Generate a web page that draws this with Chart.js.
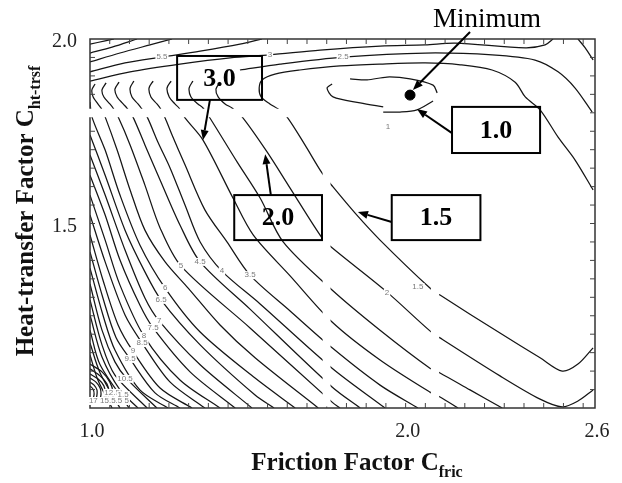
<!DOCTYPE html>
<html><head><meta charset="utf-8">
<script src="https://cdn.jsdelivr.net/npm/chart.js@4"></script>
<style>html,body{margin:0;padding:0;background:#fff}#wrap{width:622px;height:483px;position:relative}</style>
</head><body>
<div id="wrap"><canvas id="c"></canvas></div>
<script>
// ---- axis ticks ----
const xTickValues = [1.0, 2.0, 2.6];
const yTickValues = [1.5, 2.0];
const xMinorTicks = [1.0625,1.125,1.1875,1.25,1.3125,1.375,1.4375,1.5,1.5625,1.625,1.6875,1.75,1.8125,1.875,1.9375,2.0,2.0625,2.125,2.1875,2.25,2.3125,2.375,2.4375,2.5,2.5625];
const yMinorTicks = [1.05,1.1,1.15,1.2,1.25,1.3,1.35,1.4,1.45,1.5,1.55,1.6,1.65,1.7,1.75,1.8,1.85,1.9,1.95];

// ---- contour lines (Cfric, Cht-trsf) ----
const c15 = [[2.594,1.591],[2.537,1.672],[2.483,1.734],[2.426,1.808],[2.379,1.843],[2.347,1.883],[2.274,1.916],[2.173,1.930],[2.062,1.935],[1.919,1.932],[1.792,1.927],[1.665,1.916],[1.586,1.905],[1.545,1.889],[1.536,1.867],[1.542,1.843],[1.570,1.824],[1.596,1.810],[1.624,1.789],[1.681,1.713],[1.735,1.637],[1.770,1.599],[1.840,1.528],[1.919,1.455],[2.077,1.325],[2.109,1.306],[2.299,1.203],[2.426,1.136],[2.496,1.100],[2.546,1.119],[2.594,1.163]];
const c20 = [[1.412,1.883],[1.399,1.864],[1.406,1.843],[1.428,1.824],[1.450,1.813],[1.482,1.789],[1.561,1.694],[1.634,1.596],[1.735,1.461],[1.767,1.434],[1.941,1.314],[2.077,1.209],[2.109,1.190],[2.299,1.087],[2.426,1.024],[2.496,1.003],[2.546,1.019],[2.594,1.049]];
const c25 = [[1.326,1.886],[1.314,1.867],[1.320,1.843],[1.342,1.824],[1.358,1.813],[1.380,1.786],[1.466,1.667],[1.539,1.569],[1.612,1.450],[1.767,1.320],[1.919,1.211],[2.077,1.108],[2.109,1.095],[2.204,1.049],[2.306,1.000]];
const c30 = [[1.257,1.886],[1.244,1.867],[1.251,1.843],[1.269,1.824],[1.282,1.813],[1.301,1.786],[1.358,1.726],[1.453,1.569],[1.517,1.469],[1.634,1.358],[1.767,1.233],[1.919,1.130],[2.077,1.043],[2.109,1.030],[2.166,1.000]];
const c35 = [[1.200,1.886],[1.187,1.867],[1.193,1.843],[1.212,1.824],[1.222,1.813],[1.238,1.786],[1.260,1.740],[1.301,1.659],[1.364,1.537],[1.434,1.450],[1.507,1.360],[1.634,1.263],[1.767,1.163],[1.919,1.062],[2.039,1.000]];
const c40 = [[1.139,1.886],[1.127,1.867],[1.133,1.843],[1.152,1.824],[1.162,1.813],[1.181,1.789],[1.215,1.721],[1.254,1.650],[1.301,1.550],[1.349,1.450],[1.418,1.371],[1.539,1.282],[1.767,1.108],[1.935,1.000]];
const c45 = [[1.092,1.883],[1.079,1.864],[1.086,1.843],[1.105,1.824],[1.117,1.813],[1.136,1.789],[1.174,1.713],[1.222,1.618],[1.285,1.496],[1.349,1.396],[1.507,1.268],[1.767,1.057],[1.856,1.000]];
const c50 = [[1.051,1.881],[1.038,1.862],[1.044,1.843],[1.063,1.824],[1.073,1.813],[1.089,1.789],[1.127,1.713],[1.174,1.604],[1.222,1.488],[1.288,1.385],[1.507,1.217],[1.767,1.016],[1.792,1.000]];
const c55 = [[1.016,1.878],[1.006,1.862],[1.010,1.843],[1.025,1.824],[1.035,1.813],[1.048,1.789],[1.086,1.699],[1.127,1.591],[1.174,1.482],[1.238,1.396],[1.311,1.325],[1.412,1.225],[1.523,1.136],[1.723,1.000]];
const c60 = [[1.000,1.829],[1.006,1.789],[1.048,1.699],[1.095,1.577],[1.158,1.442],[1.238,1.325],[1.349,1.206],[1.523,1.081],[1.650,1.000]];
const c65 = [[1.000,1.740],[1.048,1.631],[1.111,1.482],[1.174,1.369],[1.225,1.293],[1.349,1.171],[1.523,1.035],[1.583,1.000]];
const c70 = [[1.000,1.686],[1.048,1.577],[1.111,1.428],[1.174,1.298],[1.219,1.236],[1.349,1.117],[1.513,1.000]];
const c75 = [[1.000,1.631],[1.048,1.523],[1.095,1.401],[1.158,1.279],[1.200,1.217],[1.317,1.098],[1.460,1.000]];
const c80 = [[1.000,1.577],[1.048,1.455],[1.095,1.333],[1.171,1.195],[1.285,1.076],[1.412,1.000]];
const c85 = [[1.000,1.523],[1.048,1.396],[1.111,1.252],[1.165,1.176],[1.254,1.070],[1.364,1.000]];
const c90 = [[1.000,1.469],[1.041,1.347],[1.089,1.225],[1.136,1.154],[1.222,1.054],[1.323,1.000]];
const c95 = [[1.000,1.423],[1.041,1.298],[1.082,1.192],[1.127,1.133],[1.206,1.041],[1.285,1.000]];
const c100 = [[1.000,1.379],[1.041,1.252],[1.079,1.157],[1.158,1.049],[1.247,1.000]];
const c105 = [[1.000,1.336],[1.038,1.211],[1.079,1.125],[1.117,1.079],[1.212,1.000]];
const c110 = [[1.000,1.293],[1.038,1.171],[1.079,1.089],[1.181,1.000]];
const c115 = [[1.000,1.252],[1.038,1.138],[1.095,1.049],[1.152,1.000]];
const c120 = [[1.000,1.211],[1.032,1.117],[1.124,1.000]];
const c125 = [[1.000,1.176],[1.032,1.095],[1.095,1.000]];
const c130 = [[1.000,1.144],[1.025,1.076],[1.070,1.000]];
const arc1 = [[1.000,1.119],[1.038,1.098],[1.063,1.070],[1.073,1.043],[1.070,1.024]];
const arc2 = [[1.000,1.106],[1.032,1.087],[1.054,1.065],[1.060,1.043],[1.057,1.024]];
const arc3 = [[1.000,1.092],[1.025,1.079],[1.044,1.060],[1.048,1.041],[1.044,1.024]];
const arc4 = [[1.000,1.081],[1.019,1.070],[1.032,1.054],[1.035,1.038],[1.032,1.024]];
const arc5 = [[1.000,1.070],[1.013,1.062],[1.022,1.049],[1.022,1.035],[1.019,1.024]];
const arc6 = [[1.000,1.060],[1.010,1.051],[1.013,1.038],[1.010,1.024]];
const top1 = [[1.000,1.986],[1.048,1.995],[1.076,2.000]];
const top2 = [[1.000,1.962],[1.070,1.978],[1.149,2.000]];
const top3 = [[1.000,1.938],[1.095,1.962],[1.190,1.984],[1.260,2.000]];
const top4 = [[1.000,1.911],[1.111,1.935],[1.228,1.951],[1.349,1.967],[1.475,1.986],[1.545,2.000]];
const top5 = [[1.000,1.886],[1.127,1.911],[1.285,1.932],[1.444,1.949],[1.570,1.957],[1.729,1.970],[1.919,1.981],[2.062,1.984],[2.157,1.989],[2.379,1.976],[2.442,1.984],[2.467,2.000]];
const top6 = [[1.475,1.916],[1.602,1.932],[1.802,1.951],[2.062,1.962],[2.274,1.957],[2.410,1.943],[2.483,1.911],[2.537,1.867],[2.591,1.802]];
const top7 = [[2.546,2.000],[2.569,1.976],[2.594,1.943]];
const ring1a = [[1.824,1.892],[1.878,1.889],[1.941,1.897],[2.014,1.892],[2.087,1.875],[2.100,1.854]];
const ring1b = [[1.767,1.878],[1.751,1.867],[1.770,1.843],[1.856,1.827],[1.929,1.816]];
const ring1c = [[1.929,1.802],[1.982,1.802],[2.036,1.808],[2.087,1.832]];
const minimumPoint = [[2.014,1.848]];

const contourLines = [c15,c20,c25,c30,c35,c40,c45,c50,c55,c60,c65,c70,c75,c80,c85,c90,c95,c100,c105,c110,c115,c120,c125,c130,
  arc1,arc2,arc3,arc4,arc5,arc6,top1,top2,top3,top4,top5,top6,top7,ring1a,ring1b,ring1c];

// ---- contour level labels (text, Cfric, Cht-trsf) ----
const levelText = ['5.5','3','2.5','1','5','4.5','4','3.5','6','6.5','7','7.5','8','8.5','9','9.5','10.5','12.5','1.5','17 15.5.5 5','2','1.5'];
const levelX = [1.228,1.570,1.802,1.944,1.288,1.349,1.418,1.507,1.238,1.225,1.219,1.200,1.171,1.165,1.136,1.127,1.111,1.070,1.105,1.060,1.941,2.039];
const levelY = [1.951,1.957,1.951,1.762,1.385,1.396,1.371,1.360,1.325,1.293,1.236,1.217,1.195,1.176,1.154,1.133,1.079,1.041,1.035,1.019,1.312,1.328];

// ---- callout boxes ----
const boxText = ['3.0','2.0','1.5','1.0'];
const boxX0 = [1.276,1.457,1.956,2.147];
const boxX1 = [1.545,1.735,2.237,2.426];
const boxY0 = [1.835,1.455,1.455,1.691];
const boxY1 = [1.954,1.577,1.577,1.816];
const arrowFromX = [1.380,1.573,1.956,2.147,2.204];
const arrowFromY = [1.835,1.577,1.504,1.745,2.019];
const arrowToX   = [1.358,1.555,1.849,2.036,2.023];
const arrowToY   = [1.726,1.688,1.531,1.810,1.862];

const SERIF = '"Liberation Serif","Times New Roman",serif';

const overlay = {
  id: 'overlay',
  afterDatasetsDraw(chart) {
    const {ctx, chartArea: a, scales: {x, y}} = chart;
    const X = v => x.getPixelForValue(v), Y = v => y.getPixelForValue(v);
    ctx.save();
    // frame
    ctx.strokeStyle = '#333'; ctx.lineWidth = 1.5;
    ctx.strokeRect(a.left, a.top, a.right - a.left, a.bottom - a.top);
    // inward ticks
    ctx.lineWidth = 1; ctx.strokeStyle = '#444';
    ctx.beginPath();
    xMinorTicks.forEach(v => { const px = X(v);
      ctx.moveTo(px, a.top); ctx.lineTo(px, a.top + 5);
      ctx.moveTo(px, a.bottom); ctx.lineTo(px, a.bottom - 5); });
    yMinorTicks.forEach(v => { const py = Y(v);
      ctx.moveTo(a.left, py); ctx.lineTo(a.left + 5, py);
      ctx.moveTo(a.right, py); ctx.lineTo(a.right - 5, py); });
    ctx.stroke();
    // scan seams (white gaps)
    ctx.fillStyle = '#fff';
    const gap = (x0, x1, y0, y1) => ctx.fillRect(X(x0), Y(y1), X(x1) - X(x0), Y(y0) - Y(y1));
    gap(0.985, 1.665, 1.788, 1.811);
    gap(1.737, 1.762, 1.004, 1.680);
    gap(2.080, 2.106, 1.004, 1.345);
    // level labels
    ctx.font = '8px "Liberation Sans", Arial, sans-serif';
    ctx.textAlign = 'center'; ctx.textBaseline = 'middle';
    levelText.forEach((t, i) => {
      const px = X(levelX[i]), py = Y(levelY[i]);
      const w = ctx.measureText(t).width;
      ctx.fillStyle = '#fff'; ctx.fillRect(px - w/2 - 1, py - 4, w + 2, 8);
      ctx.fillStyle = '#7a7a7a'; ctx.fillText(t, px, py);
    });
    // arrows
    ctx.strokeStyle = '#000'; ctx.fillStyle = '#000'; ctx.lineWidth = 2;
    arrowFromX.forEach((_, i) => {
      const x0 = X(arrowFromX[i]), y0 = Y(arrowFromY[i]), x1 = X(arrowToX[i]), y1 = Y(arrowToY[i]);
      const ang = Math.atan2(y1 - y0, x1 - x0), L = 10, W = 4;
      const bx = x1 - L * Math.cos(ang), by = y1 - L * Math.sin(ang);
      ctx.beginPath(); ctx.moveTo(x0, y0); ctx.lineTo(bx, by); ctx.stroke();
      ctx.beginPath(); ctx.moveTo(x1, y1);
      ctx.lineTo(bx + W * Math.sin(ang), by - W * Math.cos(ang));
      ctx.lineTo(bx - W * Math.sin(ang), by + W * Math.cos(ang));
      ctx.closePath(); ctx.fill();
    });
    // boxes
    ctx.lineWidth = 2; ctx.strokeStyle = '#000';
    ctx.font = 'bold 26px ' + SERIF; ctx.textAlign = 'center'; ctx.textBaseline = 'middle';
    boxText.forEach((t, i) => {
      const x0 = X(boxX0[i]), x1 = X(boxX1[i]), y0 = Y(boxY1[i]), y1 = Y(boxY0[i]);
      ctx.strokeRect(x0, y0, x1 - x0, y1 - y0);
      ctx.fillStyle = '#000'; ctx.fillText(t, (x0 + x1) / 2, (y0 + y1) / 2 + 1);
    });
    // Minimum text
    ctx.font = '27px ' + SERIF; ctx.textBaseline = 'alphabetic';
    ctx.fillText('Minimum', X(2.258), 27);
    // axis titles
    const subTitle = (main, sub, cx, cy, rot) => {
      ctx.save(); ctx.translate(cx, cy); ctx.rotate(rot);
      ctx.font = 'bold 25px ' + SERIF; const w1 = ctx.measureText(main).width;
      ctx.font = 'bold 16px ' + SERIF; const w2 = ctx.measureText(sub).width;
      const sx = -(w1 + w2) / 2;
      ctx.textAlign = 'left'; ctx.textBaseline = 'alphabetic'; ctx.fillStyle = '#111';
      ctx.font = 'bold 25px ' + SERIF; ctx.fillText(main, sx, 0);
      ctx.font = 'bold 16px ' + SERIF; ctx.fillText(sub, sx + w1, 7);
      ctx.restore();
    };
    subTitle('Friction Factor C', 'fric', 357, 470, 0);
    subTitle('Heat-transfer Factor C', 'ht-trsf', 33, 211, -Math.PI / 2);
    ctx.restore();
  }
};

const datasets = contourLines.map(p => ({
  data: p.map(([px, py]) => ({x: px, y: py})),
  showLine: true, borderColor: '#151515', borderWidth: 1.25,
  pointRadius: 0, tension: 0.3, fill: false, clip: 0
}));
datasets.push({
  data: minimumPoint.map(([px, py]) => ({x: px, y: py})),
  showLine: false, pointRadius: 5, pointBackgroundColor: '#000', pointBorderColor: '#000', clip: false
});

new Chart(document.getElementById('c'), {
  type: 'scatter',
  data: { datasets },
  options: {
    responsive: true, maintainAspectRatio: false, animation: false,
    layout: { padding: { top: 39, right: 27, left: 0, bottom: 0 } },
    plugins: { legend: { display: false }, tooltip: { enabled: false } },
    scales: {
      x: {
        type: 'linear', min: 1.0, max: 2.6,
        afterBuildTicks: s => { s.ticks = xTickValues.map(v => ({value: v})); },
        afterFit: s => { s.height = 75; },
        grid: { display: false, drawTicks: false }, border: { display: false },
        ticks: { padding: 12, labelOffset: 2, color: '#222', font: { family: SERIF, size: 20 }, callback: v => Number(v).toFixed(1), maxRotation: 0, autoSkip: false }
      },
      y: {
        type: 'linear', min: 1.0, max: 2.0,
        afterBuildTicks: s => { s.ticks = yTickValues.map(v => ({value: v})); },
        afterFit: s => { s.width = 90; },
        grid: { display: false, drawTicks: false }, border: { display: false },
        ticks: { padding: 13, labelOffset: 3, color: '#222', font: { family: SERIF, size: 20 }, callback: v => Number(v).toFixed(1), autoSkip: false }
      }
    }
  },
  plugins: [overlay]
});
</script>
</body></html>
